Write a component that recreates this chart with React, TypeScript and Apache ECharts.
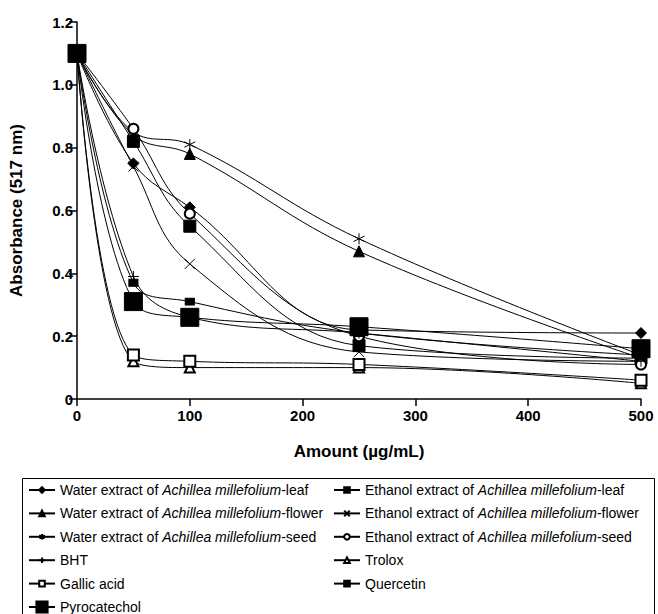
import React, { useEffect, useRef } from "react";
import * as echarts from "echarts";

const xValues = [0, 50, 100, 250, 500];
const waterLeaf = [1.1, 0.75, 0.61, 0.22, 0.21];
const waterFlower = [1.1, 0.84, 0.78, 0.47, 0.13];
const waterSeed = [1.1, 0.85, 0.81, 0.51, 0.14];
const bht = [1.1, 0.39, 0.26, 0.21, 0.12];
const gallic = [1.1, 0.14, 0.12, 0.11, 0.06];
const pyro = [1.1, 0.31, 0.26, 0.23, 0.16];
const ethLeaf = [1.1, 0.82, 0.55, 0.17, 0.13];
const ethFlower = [1.1, 0.74, 0.43, 0.15, 0.12];
const ethSeed = [1.1, 0.86, 0.59, 0.2, 0.11];
const trolox = [1.1, 0.12, 0.1, 0.1, 0.05];
const quercetin = [1.1, 0.37, 0.31, 0.21, 0.14];

const yTicks = [0, 0.2, 0.4, 0.6, 0.8, 1.0, 1.2];
const xTicks = [0, 100, 200, 300, 400, 500];

const nWL = "Water extract of Achillea millefolium-leaf";
const nWF = "Water extract of Achillea millefolium-flower";
const nWS = "Water extract of Achillea millefolium-seed";
const nEL = "Ethanol extract of Achillea millefolium-leaf";
const nEF = "Ethanol extract of Achillea millefolium-flower";
const nES = "Ethanol extract of Achillea millefolium-seed";
const nBHT = "BHT";
const nTro = "Trolox";
const nGal = "Gallic acid";
const nQue = "Quercetin";
const nPyr = "Pyrocatechol";

const FONT = "'Liberation Sans', Arial, Helvetica, sans-serif";

const ASTER = "path://M5,0L5,10M0.7,2.5L9.3,7.5M0.7,7.5L9.3,2.5";
const XMARK = "path://M0,0L10,10M10,0L0,10";
const PLUS = "path://M5,0L5,10M0,5L10,5";

function legendFmt(name: string): string {
  const key = "Achillea millefolium";
  const i = name.indexOf(key);
  if (i < 0) return "{n|" + name + "}";
  return "{n|" + name.slice(0, i) + "}{i|" + key + "}{n|" + name.slice(i + key.length) + "}";
}

export default function App() {
  const ref = useRef<HTMLDivElement>(null);
  useEffect(() => {
    if (!ref.current) return;
    const chart = echarts.init(ref.current, null, { renderer: "svg" });
    const mk = (name: string, ys: number[], symbol: string, size: any, z: number) => ({
      name,
      type: "line",
      data: xValues.map((x, i) => [x, ys[i]]),
      smooth: 0.4,
      symbol,
      symbolSize: size,
      showAllSymbol: true,
      lineStyle: { color: "#000", width: 1 },
      itemStyle: { color: "#000", borderColor: "#000", borderWidth: 1 },
      z,
      emphasis: { disabled: true },
    });
    const series = [
      mk(nWL, waterLeaf, "diamond", 11, 2),
      mk(nEL, ethLeaf, "rect", 12, 2),
      mk(nWF, waterFlower, "triangle", 11, 2),
      mk(nEF, ethFlower, XMARK, 10, 2),
      mk(nWS, waterSeed, ASTER, 11, 2),
      mk(nES, ethSeed, "emptyCircle", 10, 2),
      mk(nBHT, bht, PLUS, 11, 2),
      mk(nTro, trolox, "emptyTriangle", 10, 2),
      mk(nGal, gallic, "emptyRect", 11, 2),
      mk(nQue, quercetin, "rect", [9, 7], 3),
      mk(nPyr, pyro, "rect", 18, 4),
    ];
    const legendBase = {
      orient: "vertical",
      top: 478,
      itemWidth: 26,
      itemHeight: 7,
      itemGap: 9.4,
      selectedMode: false,
      formatter: legendFmt,
      textStyle: {
        fontFamily: FONT,
        fontSize: 14,
        color: "#000",
        lineHeight: 14,
        rich: {
          n: { fontFamily: FONT, fontSize: 14, color: "#000" },
          i: { fontFamily: FONT, fontSize: 14, color: "#000", fontStyle: "italic" },
        },
      },
    };
    chart.setOption({
      animation: false,
      backgroundColor: "#fff",
      grid: { left: 77, right: 17, top: 22, bottom: 215, containLabel: false },
      xAxis: {
        type: "value",
        min: 0,
        max: 500,
        interval: 100,
        name: "Amount (µg/mL)",
        nameLocation: "middle",
        nameGap: 44,
        nameTextStyle: { fontFamily: FONT, fontWeight: "bold", fontSize: 17, color: "#000" },
        axisLine: { lineStyle: { color: "#000", width: 1.5 } },
        axisTick: { show: true, length: 7, inside: false, lineStyle: { color: "#000", width: 1.5 } },
        axisLabel: {
          fontFamily: FONT,
          fontWeight: "bold",
          fontSize: 15,
          color: "#000",
          margin: 9,
          formatter: (v: number) => (xTicks.indexOf(v) >= 0 ? String(v) : ""),
        },
        splitLine: { show: false },
      },
      yAxis: {
        type: "value",
        min: 0,
        max: 1.2,
        interval: 0.2,
        name: "Absorbance (517 nm)",
        nameLocation: "middle",
        nameGap: 52,
        nameTextStyle: { fontFamily: FONT, fontWeight: "bold", fontSize: 17, color: "#000" },
        axisLine: { show: true, lineStyle: { color: "#000", width: 1.5 } },
        axisTick: { show: true, length: 8, inside: false, lineStyle: { color: "#000", width: 1.5 } },
        axisLabel: {
          fontFamily: FONT,
          fontWeight: "bold",
          fontSize: 15,
          color: "#000",
          margin: 4,
          formatter: (v: number) => {
            const t = yTicks.find((k) => Math.abs(k - v) < 1e-6);
            if (t === undefined) return "";
            return t === 0 ? "0" : t.toFixed(1);
          },
        },
        splitLine: { show: false },
      },
      legend: [
        { ...legendBase, left: 23, data: [nWL, nWF, nWS, nBHT, nGal] },
        { ...legendBase, left: 328, data: [nEL, nEF, nES, nTro, nQue] },
        { ...legendBase, left: 23, top: 478 + 5 * 23.4, itemHeight: 14, data: [nPyr] },
      ],
      graphic: [
        {
          type: "rect",
          shape: { x: 22.5, y: 478.5, width: 632, height: 150 },
          style: { fill: "none", stroke: "#000", lineWidth: 1 },
          silent: true,
          z: -1,
        },
      ],
      series,
    });
    return () => chart.dispose();
  }, []);
  return (
    <div
      ref={ref}
      style={{ position: "absolute", left: 0, top: 0, width: 658, height: 614 }}
    />
  );
}
